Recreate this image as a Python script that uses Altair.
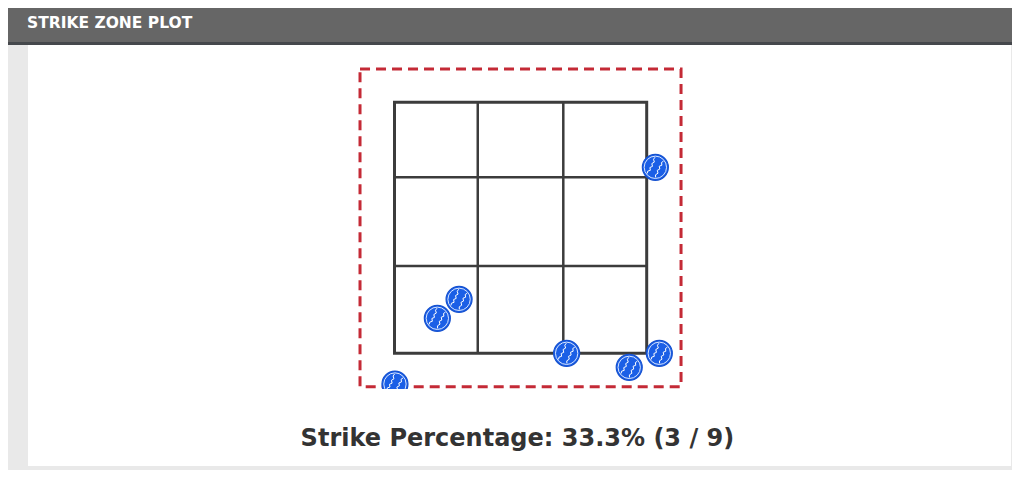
import altair as alt
import pandas as pd

# ---- data (feet) ----
pitch_x = [0.887, -0.405, -0.548, 0.303, 0.715, 0.913, -0.827]
pitch_z = [2.982, 1.930, 1.779, 1.500, 1.388, 1.500, 1.255]
strikes = 3
total = 9

zone_x = [-0.83, 0.83]          # strike zone left / right
zone_z = [1.5, 3.5]             # strike zone bottom / top
grid_x = [-0.282, 0.281]        # inner vertical lines
grid_z = [2.196, 2.902]         # inner horizontal lines
shadow_x = [-1.057, 1.056]      # dashed outer box
shadow_z = [1.234, 3.765]

title_text = "STRIKE ZONE PLOT"
label_text = f"Strike Percentage: {100 * strikes / total:.1f}% ({strikes} / {total})"

# ---- styles ----
BG = "#e9e9e9"
HEADER = "#666666"
HEADER_EDGE = "#45484c"
ZONE = "#3c3c3c"
RED = "#c42a36"
BALL = "#1b5fe6"


def seam(p0, c, p1, n=8, amp=0.07):
    pts = []
    for i in range(n + 1):
        t = i / n
        x = (1 - t) ** 2 * p0[0] + 2 * (1 - t) * t * c[0] + t ** 2 * p1[0]
        y = (1 - t) ** 2 * p0[1] + 2 * (1 - t) * t * c[1] + t ** 2 * p1[1]
        dx = 2 * (1 - t) * (c[0] - p0[0]) + 2 * t * (p1[0] - c[0])
        dy = 2 * (1 - t) * (c[1] - p0[1]) + 2 * t * (p1[1] - c[1])
        ln = (dx * dx + dy * dy) ** 0.5
        nx, ny = -dy / ln, dx / ln
        s = amp if i % 2 else -amp
        if i in (0, n):
            s = 0
        pts.append((x + nx * s, y + ny * s))
    return "M" + " L".join(f"{px:.3f},{py:.3f}" for px, py in pts)


STITCH = seam((-0.02, -0.8), (-0.25, -0.05), (-0.64, 0.48)) + " " + seam((0.64, -0.48), (0.25, 0.05), (0.02, 0.8))

xs = alt.Scale(domain=zone_x, range=[366.5, 618.7], zero=False, nice=False)
ys = alt.Scale(domain=zone_z, range=[308.3, 57.3], zero=False, nice=False)

one = alt.Data(values=[{"a": 1}])

header = alt.Chart(one).mark_rect(fill=HEADER).encode(
    x=alt.value(-20), x2=alt.value(1000), y=alt.value(-37), y2=alt.value(-3))
header_edge = alt.Chart(one).mark_rect(fill=HEADER_EDGE).encode(
    x=alt.value(-20), x2=alt.value(1000), y=alt.value(-3), y2=alt.value(0))
panel = alt.Chart(one).mark_rect(fill="white").encode(
    x=alt.value(0), x2=alt.value(983), y=alt.value(0), y2=alt.value(421))
title = alt.Chart(alt.Data(values=[{"t": title_text}])).mark_text(
    font="DejaVu Sans", fontWeight="bold", fontSize=15.5, color="white",
    align="left", baseline="alphabetic").encode(
    text="t:N", x=alt.value(-1), y=alt.value(-17.2))

shadow_df = pd.DataFrame({"x1": [shadow_x[0]], "x2": [shadow_x[1]], "z1": [shadow_z[0]], "z2": [shadow_z[1]]})
shadow = alt.Chart(shadow_df).mark_rect(
    fillOpacity=0, stroke=RED, strokeWidth=3, strokeDash=[10, 6]).encode(
    x=alt.X("x1:Q", scale=xs, axis=None), x2="x2:Q",
    y=alt.Y("z1:Q", scale=ys, axis=None), y2="z2:Q")

vdf = pd.DataFrame({"gx": grid_x, "z1": [zone_z[0]] * 2, "z2": [zone_z[1]] * 2})
vlines = alt.Chart(vdf).mark_rule(color=ZONE, strokeWidth=2.5).encode(
    x=alt.X("gx:Q", scale=xs, axis=None),
    y=alt.Y("z1:Q", scale=ys, axis=None), y2="z2:Q")
hdf = pd.DataFrame({"gz": grid_z, "x1": [zone_x[0]] * 2, "x2": [zone_x[1]] * 2})
hlines = alt.Chart(hdf).mark_rule(color=ZONE, strokeWidth=2.5).encode(
    y=alt.Y("gz:Q", scale=ys, axis=None),
    x=alt.X("x1:Q", scale=xs, axis=None), x2="x2:Q")

zone_df = pd.DataFrame({"x1": [zone_x[0]], "x2": [zone_x[1]], "z1": [zone_z[0]], "z2": [zone_z[1]]})
zone = alt.Chart(zone_df).mark_rect(
    fillOpacity=0, stroke=ZONE, strokeWidth=3).encode(
    x=alt.X("x1:Q", scale=xs, axis=None), x2="x2:Q",
    y=alt.Y("z1:Q", scale=ys, axis=None), y2="z2:Q")

pitches = pd.DataFrame({"px": pitch_x, "pz": pitch_z})
enc = dict(x=alt.X("px:Q", scale=xs, axis=None), y=alt.Y("pz:Q", scale=ys, axis=None))
ball = alt.Chart(pitches).mark_circle(
    size=676, color=BALL, opacity=1, stroke="#1652d0", strokeWidth=1.2, clip=True).encode(**enc)
ring = alt.Chart(pitches).mark_point(
    shape="circle", filled=False, size=500, stroke="#d9e6ff", strokeWidth=1, opacity=1, clip=True).encode(**enc)
stitch = alt.Chart(pitches).mark_point(
    shape=STITCH, filled=False, size=640, stroke="white", strokeWidth=1, opacity=1, clip=True).encode(**enc)

label = alt.Chart(alt.Data(values=[{"t": label_text}])).mark_text(
    font="DejaVu Sans", fontWeight="bold", fontSize=24, color="#333333",
    align="center", baseline="alphabetic").encode(
    text="t:N", x=alt.value(489.4), y=alt.value(400.7))

chart = alt.layer(
    header, header_edge, panel, title, shadow, vlines, hlines, zone, ball, ring, stitch, label
).properties(
    width=983, height=344,
    autosize=alt.AutoSizeParams(type="none"),
    padding={"left": 20, "top": 37, "right": 1, "bottom": 81},
    background=BG,
).configure_view(strokeWidth=0)

chart.save("out.html", embed_options={"renderer": "svg", "actions": False})
